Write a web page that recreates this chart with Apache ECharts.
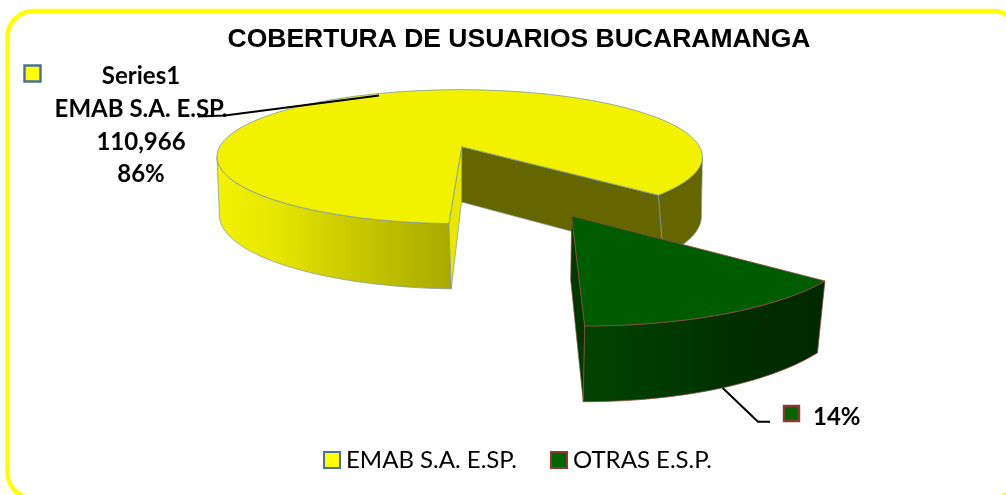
<!DOCTYPE html>
<html><head><meta charset="utf-8">
<style>html,body{margin:0;padding:0;background:#fff}#c{width:1006px;height:495px}</style>
<script src="https://cdn.jsdelivr.net/npm/echarts@6/dist/echarts.min.js"></script>
</head><body><div id="c"></div>
<script>
const titleText = 'COBERTURA DE USUARIOS BUCARAMANGA';
const categories = ['EMAB S.A. E.SP.', 'OTRAS E.S.P.'];
const values = [110966, 18064];
const seriesLabel = 'Series1';
const percentLabels = ['86%', '14%'];

const total = values.reduce((a, b) => a + b, 0);
const DEG = Math.PI / 180;
const START = 92.2;                    // screen angle where the first slice starts (clockwise)
const GREEN_ROT = -2.2;
const sweep = values.map(v => v / total * 360);

// perspective discs: top and bottom of each extruded slice
const yellowTop = {ox: 459.7, oy: 146.7, s: 240, sh: 0, b: 65.5, k: -0.149};
const yellowBot = {ox: 460.0, oy: 202, s: 236.7, sh: 2, b: 70.6, k: -0.188};
const apexTop = [461.7, 146.7], apexBot = [461.5, 202];
const greenTop  = {ox: 571.7, oy: 216, s: 282.7, sh: 10.7, b: 90.5, k: -0.177};
const greenBot  = {ox: 570.7, oy: 280, s: 280, sh: 10.66, b: 103, k: -0.154};

function pt(d, a) {
  const x = Math.cos(a * DEG), y = Math.sin(a * DEG), w = 1 + d.k * y;
  return [d.ox + (d.s * x + d.sh * y) / w, d.oy + d.b * y / w];
}
function arc(d, a0, a1) {
  const n = Math.max(2, Math.ceil(Math.abs(a1 - a0) / 1.5)), r = [];
  for (let i = 0; i <= n; i++) r.push(pt(d, a0 + (a1 - a0) * i / n));
  return r;
}
function poly(points, fill, stroke, lw, z) {
  return {type: 'polygon', shape: {points}, z2: z,
    style: {fill, stroke: stroke || fill, lineWidth: lw == null ? 0.7 : lw, lineJoin: 'round'}};
}
function hGrad(x0, x1, stops) {
  return {type: 'linear', x: x0, y: 0, x2: x1, y2: 0, global: true,
    colorStops: stops.map((c, i) => ({offset: i / (stops.length - 1), color: c}))};
}
function line(points, w) {
  return {type: 'polyline', shape: {points}, z2: 50, style: {fill: null, stroke: '#000', lineWidth: w || 2}};
}

function renderYellow(params, api) {
  const a0 = START, a1 = START + sweep[0];
  const st = '#7f97a8';
  const cutEndTop = pt(yellowTop, a1), cutEndBot = pt(yellowBot, a1);
  const cutStartTop = pt(yellowTop, a0), cutStartBot = pt(yellowBot, a0);
  const children = [
    // back-right rim (from the right extreme to the cut)
    poly(arc(yellowTop, 8.6, a1 - 360).concat(arc(yellowBot, a1 - 360, 10.8)), '#666600', st, 0.7, 1),
    // long cut face
    poly([apexTop, cutEndTop, cutEndBot, apexBot], '#666600', st, 0.7, 2),
    // front-left rim
    poly(arc(yellowTop, a0, 171.4).concat(arc(yellowBot, 169.2, a0)),
      hGrad(218, 453, ['#f2f200', '#e6e600', '#cfcf00', '#bcbc00', '#a8a800']), st, 0.7, 3),
    // narrow cut face
    poly([apexTop, cutStartTop, cutStartBot, apexBot], '#e8e800', st, 0.7, 4),
    // top
    poly([apexTop].concat(arc(yellowTop, a0, a1)), '#f2f200', st, 0.8, 5),
    // leader line
    line([[198, 116.5], [225, 115.5], [379, 95.5]], 2),
    {type: 'rect', shape: {x: 24.5, y: 65.5, width: 16, height: 16}, z2: 60,
      style: {fill: '#ffff00', stroke: '#4a6f9c', lineWidth: 2.4}},
    ...[seriesLabel, categories[0], api.value(0).toLocaleString('en-US'), percentLabels[0]].map((t, i) => ({
      type: 'text', z2: 60,
      style: {text: t, x: 141, y: [76, 109, 142, 174][i], align: 'center', verticalAlign: 'middle',
        fill: '#000', font: 'bold 24px Lato'}
    }))
  ];
  return {type: 'group', children};
}

function renderGreen(params, api) {
  const a0 = START + sweep[0] - 360 + GREEN_ROT, a1 = a0 + sweep[1];
  const st = '#8a4a40';
  const children = [
    line([[722.7, 388], [758, 421.7], [770, 421.7]], 2),
    poly([[greenTop.ox, greenTop.oy], pt(greenTop, a1), pt(greenBot, a1), [greenBot.ox, greenBot.oy]], '#003800', st, 0.7, 6),
    poly(arc(greenTop, a0, a1).concat(arc(greenBot, a1, a0)),
      hGrad(583, 825, ['#004400', '#003a00', '#002e00', '#002800']), st, 0.8, 7),
    poly([[greenTop.ox, greenTop.oy]].concat(arc(greenTop, a0, a1)), '#005c00', st, 0.8, 8),
    {type: 'rect', shape: {x: 784, y: 406, width: 15, height: 15}, z2: 60,
      style: {fill: '#006600', stroke: '#8a3a32', lineWidth: 2.4}},
    {type: 'text', z2: 60, style: {text: percentLabels[1], x: 813, y: 417, align: 'left', verticalAlign: 'middle',
      fill: '#000', font: 'bold 24px Lato'}}
  ];
  return {type: 'group', children};
}

const chart = echarts.init(document.getElementById('c'), null, {renderer: 'canvas'});
chart.setOption({
  animation: false,
  backgroundColor: '#fff',
  title: {text: titleText, left: 514, textAlign: 'center', top: 21.5,
    textStyle: {fontFamily: 'Liberation Sans', fontWeight: 'bold', fontSize: 26.5, color: '#000'}},
  legend: {
    data: categories, left: 318, top: 443, itemWidth: 16, itemHeight: 16, itemGap: 33, icon: 'rect',
    textStyle: {fontFamily: 'Lato', fontSize: 24, color: '#000', padding: [0, 0, 0, 1]}
  },
  xAxis: {show: false}, yAxis: {show: false},
  grid: {left: 0, right: 0, top: 0, bottom: 0},
  graphic: [{type: 'rect', z: -1, shape: {x: 7.5, y: 11, width: 1011, height: 487.5, r: 26},
    style: {fill: '#fff', stroke: '#ffff00', lineWidth: 4.5}}],
  series: [
    {type: 'custom', name: categories[0], coordinateSystem: 'none', data: [[values[0]]], renderItem: renderYellow, z: 2, clip: false,
      itemStyle: {color: '#ffff00', borderColor: '#4a6f9c', borderWidth: 2.4}, silent: true},
    {type: 'custom', name: categories[1], coordinateSystem: 'none', data: [[values[1]]], renderItem: renderGreen, z: 3, clip: false,
      itemStyle: {color: '#006600', borderColor: '#8a3a32', borderWidth: 2.4}, silent: true}
  ]
});
</script></body></html>
